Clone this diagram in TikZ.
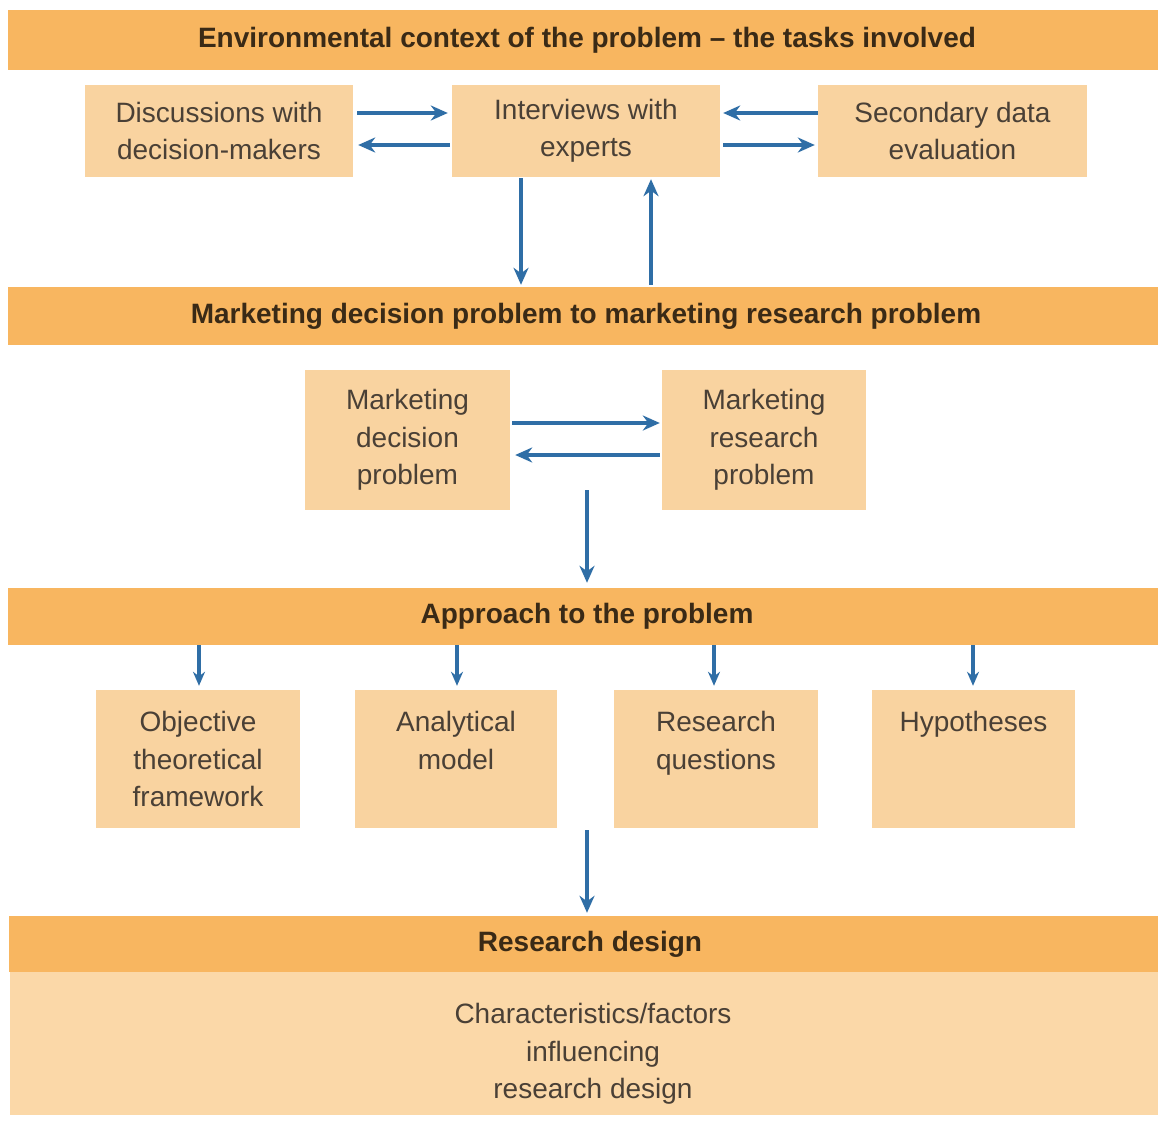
\documentclass[tikz,border=0pt]{standalone}
\usepackage{fontspec}
\setmainfont{Liberation Sans}
\usetikzlibrary{calc,arrows.meta}
\definecolor{bandor}{HTML}{F8B660}
\definecolor{boxor}{HTML}{F9D3A0}
\definecolor{lightor}{HTML}{FBD8A8}
\definecolor{arrblue}{HTML}{2F6EA6}
\definecolor{bandtxt}{HTML}{3A2A16}
\definecolor{boxtxt}{HTML}{4A4036}
\tikzset{
  band/.style={fill=bandor, draw=none, minimum width=1150pt, minimum height=#1, inner sep=0pt,
     font=\fontsize{28}{30}\selectfont\bfseries, text=bandtxt},
  obox/.style={fill=boxor, draw=none, inner sep=0pt, align=center,
     font=\fontsize{28}{37.5}\selectfont, text=boxtxt},
  arr/.style={draw=arrblue, line width=3.8pt, -{Stealth[length=17pt,width=15pt]}},
  sarr/.style={draw=arrblue, line width=3.2pt, -{Stealth[length=14pt,width=12pt]}}
}
\begin{document}
\begin{tikzpicture}[x=1pt,y=-1pt]
\useasboundingbox[fill=white] (0,0) rectangle (1158,1121);
% bands
\node[band=60pt] (b1) at (583,40) {\hspace*{8pt}Environmental context of the problem -- the tasks involved};
\node[band=58pt] (b2) at (583,316) {\hspace*{6pt}Marketing decision problem to marketing research problem};
\node[band=57pt] (b3) at (583,616.5) {\hspace*{8pt}Approach to the problem};
\node[band=56pt] (b4) at (584,944) {\hspace*{12pt}Research design};
\node[fill=lightor, minimum width=1148pt, minimum height=143pt, inner sep=0pt] (b4body) at (584,1043.5) {};
\node[align=center, font=\fontsize{28}{37.5}\selectfont, text=boxtxt, inner sep=0pt] (b4txt) at (593,1054)
      {Characteristics/factors\\influencing\\research design};
% top row
\node[obox, minimum width=268pt, minimum height=92pt] (disc) at (219,131) {Discussions with\\decision-makers};
\node[obox, minimum width=268pt, minimum height=92pt] (inter) at (586,131) {Interviews with\\experts};
\node[obox, minimum width=269pt, minimum height=92pt] (sec) at (952.5,131) {Secondary data\\evaluation};
% middle row
\node[obox, minimum width=205pt, minimum height=140pt] (mdp) at (407.5,440) {Marketing\\decision\\problem};
\node[obox, minimum width=204pt, minimum height=140pt] (mrp) at (764,440) {Marketing\\research\\problem};
% approach row
\node[obox, minimum width=204pt, minimum height=138pt] (otf) at (198,759) {Objective\\theoretical\\framework};
\node[obox, minimum width=202pt, minimum height=138pt] (am) at (456,759) {Analytical\\model\\\mbox{}};
\node[obox, minimum width=204pt, minimum height=138pt] (rq) at (716,759) {Research\\questions\\\mbox{}};
\node[obox, minimum width=203pt, minimum height=138pt] (hyp) at (973.5,759) {Hypotheses\\\mbox{}\\\mbox{}};
% arrows top row
\draw[arr] ($(disc.east)+(4,-18)$) -- ($(inter.west)+(-4,-18)$);
\draw[arr] ($(inter.west)+(-2,14)$) -- ($(disc.east)+(5,14)$);
\draw[arr] ($(sec.west)+(0,-18)$) -- ($(inter.east)+(3,-18)$);
\draw[arr] ($(inter.east)+(3,14)$) -- ($(sec.west)+(-3,14)$);
% vertical between interviews and band2
\draw[arr] ($(inter.south)+(-65,1)$) -- ($(b2.north)+(-62,-2)$);
\draw[arr] ($(b2.north)+(68,-2)$) -- ($(inter.south)+(65,2)$);
% middle arrows
\draw[arr] ($(mdp.east)+(2,-17)$) -- ($(mrp.west)+(-2,-17)$);
\draw[arr] ($(mrp.west)+(-2,15)$) -- ($(mdp.east)+(5,15)$);
\draw[arr] (587,490) coordinate (m1) -- ($(b3.north)+(4,-5)$);
% approach arrows
\draw[sarr] ($(b3.south)+(-384,0)$) -- ($(otf.north)+(1,-4)$);
\draw[sarr] ($(b3.south)+(-126,0)$) -- ($(am.north)+(1,-4)$);
\draw[sarr] ($(b3.south)+(131,0)$) -- ($(rq.north)+(-2,-4)$);
\draw[sarr] ($(b3.south)+(390,0)$) -- ($(hyp.north)+(-0.5,-4)$);
% to research design
\draw[arr] (587,830) coordinate (m2) -- ($(b4.north)+(3,-3)$);
\end{tikzpicture}
\end{document}
